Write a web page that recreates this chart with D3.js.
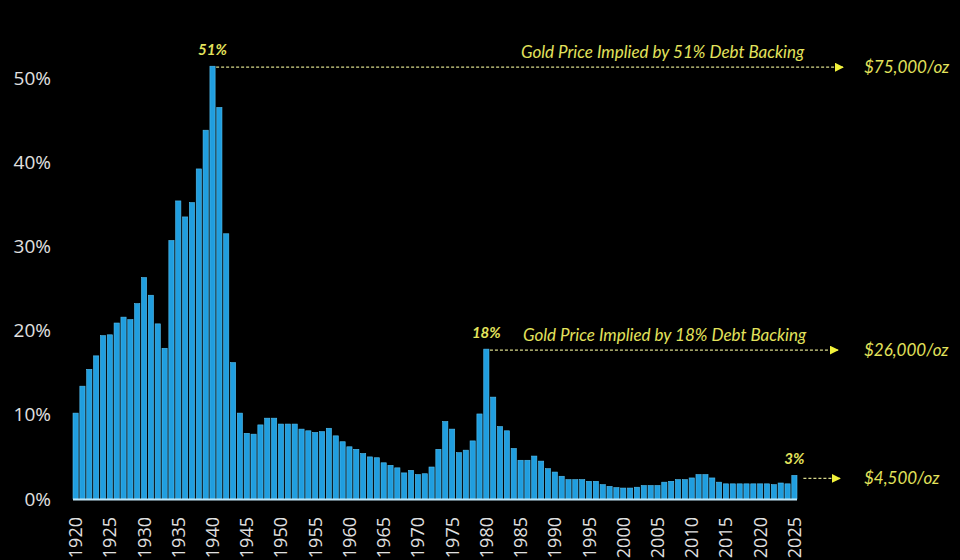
<!DOCTYPE html>
<html>
<head>
<meta charset='utf-8'>
<script src='https://d3js.org/d3.v7.min.js'></script>
<style>
    body { margin: 0; background: #000; }
    svg { display: block; background: #000; }
    .axis text { font-family: "Open Sans", sans-serif; fill: #e0e0e0; }
    .note { font-family: Lato, "Open Sans", sans-serif; font-style: italic; fill: #e3e35c; }
</style>
</head>
<body>
<svg id='chart' width='960' height='560'></svg>
<script>

    // debt backing (%) by year, 1920-2025
    const years = d3.range(1920, 2026);
    const values = [
        10.2, 13.4, 15.4, 17.0, 19.4, 19.5, 20.9, 21.6, 21.3, 23.2,
        26.3, 24.2, 20.8, 17.9, 30.7, 35.4, 33.5, 35.2, 39.2, 43.8,
        51.4, 46.5, 31.5, 16.2, 10.2, 7.8, 7.7, 8.8, 9.6, 9.6,
        8.9, 8.9, 8.9, 8.3, 8.1, 7.9, 8.0, 8.4, 7.5, 6.8,
        6.2, 5.9, 5.4, 5.0, 4.9, 4.3, 4.0, 3.7, 3.1, 3.4,
        2.9, 3.0, 3.8, 5.9, 9.2, 8.3, 5.5, 5.8, 6.9, 10.1,
        17.8, 12.1, 8.6, 8.1, 6.0, 4.6, 4.6, 5.1, 4.5, 3.6,
        3.2, 2.7, 2.3, 2.3, 2.3, 2.1, 2.1, 1.7, 1.5, 1.35,
        1.3, 1.3, 1.4, 1.6, 1.6, 1.6, 2.0, 2.1, 2.3, 2.3,
        2.5, 2.9, 2.9, 2.5, 2.0, 1.8, 1.8, 1.8, 1.8, 1.8,
        1.8, 1.8, 1.7, 1.9, 1.8, 2.8
    ];
    const yTicks = [0, 10, 20, 30, 40, 50];
    const xTicks = d3.range(1920, 2026, 5);

    // callouts
    const noteYears = [1940, 1980, 2025];
    const notePct = ['51%', '18%', '3%'];
    const noteText = ['Gold Price Implied by 51% Debt Backing', 'Gold Price Implied by 18% Debt Backing', ''];
    const notePrice = ['$75,000/oz', '$26,000/oz', '$4,500/oz'];

    const svg = d3.select('#chart');

    const x = d3.scaleBand()
        .domain(years)
        .range([73, 797])
        .paddingInner(0.24);
    const y = d3.scaleLinear()
        .domain([0, 50])
        .range([499, 78]);

    // y axis
    const yAxis = svg.append('g')
        .attr('class', 'axis')
        .attr('transform', 'translate(51,0)')
        .call(d3.axisLeft(y).tickValues(yTicks).tickFormat(d => d + '%').tickSize(0).tickPadding(0));
    yAxis.select('.domain').remove();
    yAxis.selectAll('text').style('font-size', '19px');

    // bars
    svg.append('g').selectAll('rect')
        .data(years)
        .join('rect')
        .attr('x', d => x(d))
        .attr('width', x.bandwidth())
        .attr('y', (d, i) => y(values[i]))
        .attr('height', (d, i) => y(0) - y(values[i]))
        .attr('fill', '#209edf')
        .attr('stroke', '#55c0f2')
        .attr('stroke-width', 0.6);

    // baseline
    svg.append('line')
        .attr('x1', 73).attr('x2', 797)
        .attr('y1', y(0) + 0.5).attr('y2', y(0) + 0.5)
        .attr('stroke', '#bfe6f7')
        .attr('stroke-width', 2);

    // x axis
    const xAxis = svg.append('g')
        .attr('class', 'axis')
        .attr('transform', 'translate(0,' + (y(0) + 2) + ')')
        .call(d3.axisBottom(x).tickValues(xTicks).tickSize(0).tickPadding(0));
    xAxis.select('.domain').remove();
    xAxis.selectAll('text')
        .style('font-size', '18px')
        .attr('text-anchor', 'end')
        .attr('dy', '0.36em')
        .attr('transform', 'translate(0,16) rotate(-90)')
        .attr('x', 0).attr('y', 0);

    // arrowhead
    svg.append('defs').append('marker')
        .attr('id', 'arr')
        .attr('viewBox', '0 0 10 10')
        .attr('refX', 9).attr('refY', 5)
        .attr('markerWidth', 9).attr('markerHeight', 9)
        .attr('markerUnits', 'userSpaceOnUse')
        .attr('orient', 'auto')
        .append('path')
        .attr('d', 'M0,0L10,5L0,10Z')
        .attr('fill', '#f2f23a');

    const lineEnd = [843, 838, 840];
    const noteG = svg.append('g');
    noteYears.forEach((yr, k) => {
        const i = years.indexOf(yr);
        const cx = x(yr) + x.bandwidth() / 2;
        const top = y(values[i]);
        const x0 = k === 2 ? cx + 9 : x(yr) + x.bandwidth() + 1;
        const ly = k === 2 ? top + 3 : top + 1;

        noteG.append('text')
            .attr('class', 'note')
            .attr('x', cx).attr('y', top - 11)
            .attr('text-anchor', 'middle')
            .style('font-weight', 'bold')
            .style('font-size', '15px')
            .text(notePct[k]);

        noteG.append('line')
            .attr('x1', x0).attr('x2', lineEnd[k])
            .attr('y1', ly).attr('y2', ly)
            .attr('stroke', '#d9d98a')
            .attr('stroke-width', 1.3)
            .attr('stroke-dasharray', '3,2')
            .attr('marker-end', 'url(#arr)');

        if (noteText[k]) {
            noteG.append('text')
                .attr('class', 'note')
                .attr('x', 521 + (k === 1 ? 2 : 0)).attr('y', ly - 9)
                .style('font-size', '17px')
                .text(noteText[k]);
        }

        noteG.append('text')
            .attr('class', 'note')
            .attr('x', 864).attr('y', ly + 6)
            .style('font-size', '17px')
            .text(notePrice[k]);
    });

</script>
</body>
</html>
